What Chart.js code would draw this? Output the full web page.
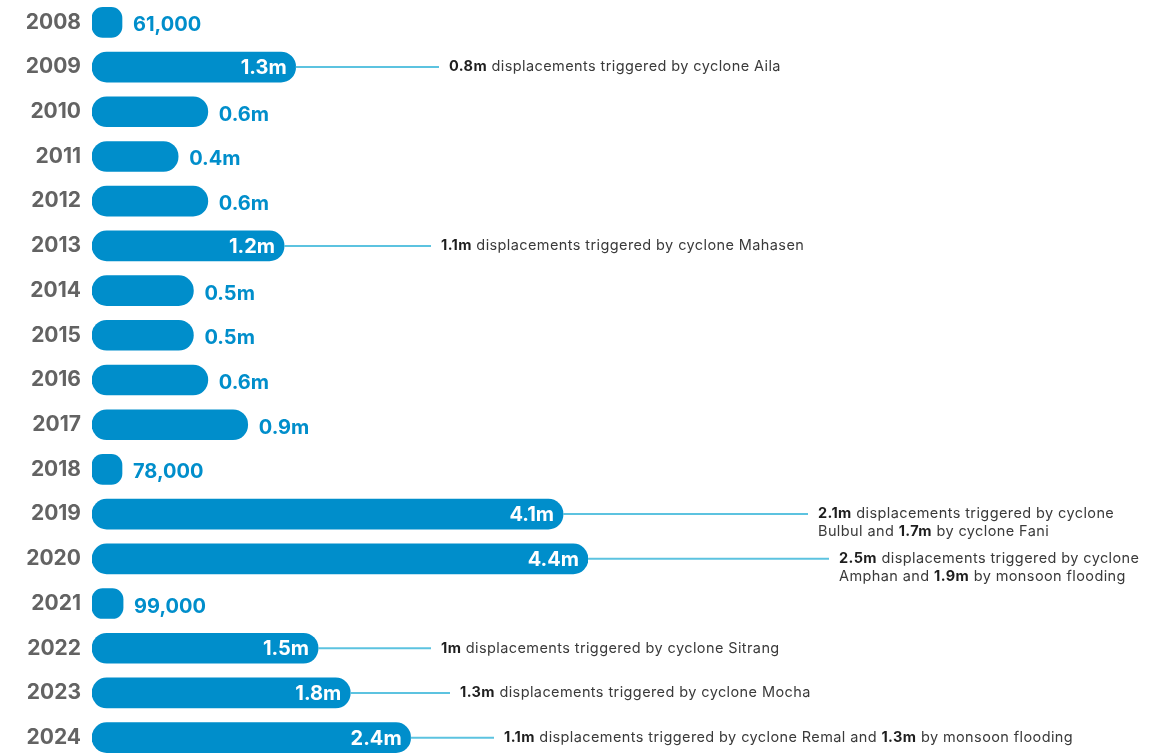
<!DOCTYPE html>
<html><head><meta charset="utf-8">
<script src="https://cdn.jsdelivr.net/npm/chart.js@4"></script>
<style>html,body{margin:0;padding:0;background:#fff;overflow:hidden;} canvas{display:block}</style>
</head><body>
<canvas id="c" width="1166" height="760"></canvas>
<script>
// ---- data ----
const years = ['2008','2009','2010','2011','2012','2013','2014','2015','2016','2017','2018','2019','2020','2021','2022','2023','2024'];
const displacementsMillions = [0.061, 1.3, 0.6, 0.4, 0.6, 1.2, 0.5, 0.5, 0.6, 0.9, 0.078, 4.1, 4.4, 0.099, 1.5, 1.8, 2.4];
const valueLabels = ['61,000','1.3m','0.6m','0.4m','0.6m','1.2m','0.5m','0.5m','0.6m','0.9m','78,000','4.1m','4.4m','99,000','1.5m','1.8m','2.4m'];
const notes = [
  null,
  '**0.8m** displacements triggered by cyclone Aila',
  null, null, null,
  '**1.1m** displacements triggered by cyclone Mahasen',
  null, null, null, null, null,
  '**2.1m** displacements triggered by cyclone\nBulbul and **1.7m** by cyclone Fani',
  '**2.5m** displacements triggered by cyclone\nAmphan and **1.9m** by monsoon flooding',
  null,
  '**1m** displacements triggered by cyclone Sitrang',
  '**1.3m** displacements triggered by cyclone Mocha',
  '**1.1m** displacements triggered by cyclone Remal and **1.3m** by monsoon flooding'
];

// ---- layout / style (not data) ----
const noteTextX = {1:449, 5:441, 11:818, 12:839, 14:441, 15:460, 16:504};
const BAR_BLUE = '#008ECB';
const LINE_BLUE = '#5CC3E0';
const FONT = 'Inter, Lato, sans-serif';
const EXPONENT = 0.73; // designer's non-linear bar scaling

class PowerScale extends Chart.LinearScale {
  getPixelForValue(value) {
    const v = Math.max(0, value - this.min);
    const t = Math.pow(v, EXPONENT) / Math.pow(this.max - this.min, EXPONENT);
    return this.getPixelForDecimal(t);
  }
  getValueForPixel(pixel) {
    const t = Math.max(0, this.getDecimalForPixel(pixel));
    return this.min + Math.pow(t, 1 / EXPONENT) * (this.max - this.min);
  }
}
PowerScale.id = 'power';
PowerScale.defaults = {};
Chart.register(PowerScale);

function drawRich(ctx, text, x, y, size, lineH) {
  ctx.letterSpacing = '0.4px';
  text.split('\n').forEach((line, li) => {
    let cx = x;
    const parts = line.split('**');
    parts.forEach((p, pi) => {
      if (!p) return;
      const bold = pi % 2 === 1;
      ctx.font = (bold ? '700 ' : '400 ') + size + 'px ' + FONT;
      ctx.fillStyle = bold ? '#1e1e1e' : '#3a3a3a';
      ctx.fillText(p, cx, y + li * lineH);
      cx += ctx.measureText(p).width;
    });
  });
  ctx.letterSpacing = '0px';
}

const labelPlugin = {
  id: 'labels',
  afterDatasetsDraw(chart) {
    const ctx = chart.ctx;
    const meta = chart.getDatasetMeta(0);
    ctx.save();
    meta.data.forEach((bar, i) => {
      const x = bar.x, y = bar.y;
      ctx.textBaseline = 'middle';
      if (notes[i]) {
        const tx = noteTextX[i];
        ctx.strokeStyle = LINE_BLUE;
        ctx.lineWidth = 2;
        ctx.beginPath();
        ctx.moveTo(x, y);
        ctx.lineTo(tx - 10, y);
        ctx.stroke();
        ctx.font = '700 20px ' + FONT;
        ctx.fillStyle = '#ffffff';
        ctx.textAlign = 'right';
        ctx.fillText(valueLabels[i], x - 9, y + 1);
        ctx.textAlign = 'left';
        drawRich(ctx, notes[i], tx, y, 14.5, 18);
      } else {
        ctx.font = '700 20px ' + FONT;
        ctx.fillStyle = BAR_BLUE;
        ctx.textAlign = 'left';
        ctx.fillText(valueLabels[i], x + 11, y + 3);
      }
    });
    ctx.restore();
  }
};

new Chart(document.getElementById('c'), {
  type: 'bar',
  data: {
    labels: years,
    datasets: [{
      data: displacementsMillions,
      backgroundColor: BAR_BLUE,
      borderSkipped: false,
      borderRadius: (c) => (c.raw !== undefined && c.raw < 0.2 ? 11 : 15),
      barThickness: 30,
      minBarLength: 30
    }]
  },
  options: {
    indexAxis: 'y',
    responsive: false,
    animation: false,
    layout: { padding: { left: 0, right: 578, top: 0, bottom: 0 } },
    plugins: { legend: { display: false }, tooltip: { enabled: false } },
    scales: {
      x: { type: 'power', min: 0, max: 4.4, display: false, grid: { display: false } },
      y: {
        type: 'category',
        grid: { display: false, drawTicks: false },
        border: { display: false },
        ticks: { padding: 11, color: '#636363', font: { family: FONT, size: 21, weight: '700' } },
        afterFit: (s) => { s.width = 92; s.paddingTop = 0; s.paddingBottom = 0; }
      }
    }
  },
  plugins: [labelPlugin]
});
</script>
</body></html>
